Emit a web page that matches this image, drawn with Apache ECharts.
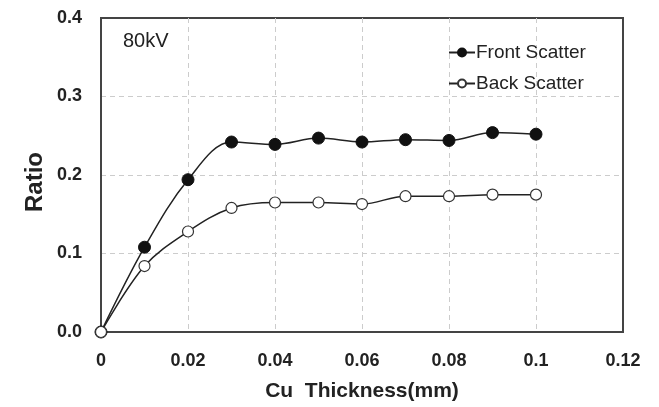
<!DOCTYPE html>
<html>
<head>
<meta charset="utf-8">
<script src="https://cdn.jsdelivr.net/npm/echarts@6/dist/echarts.min.js"></script>
<style>
  html, body { margin: 0; padding: 0; background: #fff; }
  #main { width: 659px; height: 407px; }
</style>
</head>
<body>
<div id="main"></div>
<script>
var thickness = [0, 0.01, 0.02, 0.03, 0.04, 0.05, 0.06, 0.07, 0.08, 0.09, 0.1];
var frontScatter = [0, 0.108, 0.194, 0.242, 0.239, 0.247, 0.242, 0.245, 0.244, 0.254, 0.252];
var backScatter = [0, 0.084, 0.128, 0.158, 0.165, 0.165, 0.163, 0.173, 0.173, 0.175, 0.175];
var seriesNames = ["Front Scatter", "Back Scatter"];

function pairs(xs, ys) {
  return xs.map(function (x, i) { return [x, ys[i]]; });
}

var myChart = echarts.init(document.getElementById("main"));
var tickFont = { fontFamily: "Liberation Sans", fontWeight: "bold", fontSize: 18, color: "#222" };

var option = {
  animation: false,
  backgroundColor: "#fff",
  grid: {
    left: 101, top: 18, right: 36, bottom: 73,
    show: true, borderColor: "#444", borderWidth: 2
  },
  graphic: [
    {
      type: "text", left: 123, top: 31,
      style: { text: "80kV", fontFamily: "Liberation Sans", fontSize: 20, fill: "#222" }
    },
    // y axis title, placed by hand so it sits a little below the middle like the original
    {
      type: "text", x: 35, y: 182, rotation: Math.PI / 2,
      style: {
        text: "Ratio", fontFamily: "Liberation Sans", fontWeight: "bold", fontSize: 24,
        fill: "#222", align: "center", verticalAlign: "middle"
      }
    }
  ],
  legend: {
    orient: "vertical",
    left: 443, top: 38,
    itemGap: 12,
    itemWidth: 26, itemHeight: 10,
    textStyle: { fontFamily: "Liberation Sans", fontSize: 19, color: "#222", padding: [0, 0, 0, -4] },
    data: seriesNames
  },
  xAxis: {
    type: "value",
    min: 0, max: 0.12, interval: 0.02,
    name: "Cu  Thickness(mm)",
    nameLocation: "middle",
    nameGap: 49,
    nameTextStyle: { fontFamily: "Liberation Sans", fontWeight: "bold", fontSize: 21, color: "#222" },
    axisLine: { lineStyle: { color: "#444", width: 2 } },
    axisTick: { show: false },
    axisLabel: Object.assign({ margin: 20 }, tickFont),
    splitLine: { show: true, showMaxLine: false, lineStyle: { color: "#ccc", type: [5, 4], width: 1 } }
  },
  yAxis: {
    type: "value",
    min: 0, max: 0.4, interval: 0.1,
    axisLine: { show: true, lineStyle: { color: "#444", width: 2 } },
    axisTick: { show: false },
    axisLabel: Object.assign({
      margin: 19,
      formatter: function (v) { return v.toFixed(1); }
    }, tickFont),
    splitLine: { show: true, showMaxLine: false, lineStyle: { color: "#ccc", type: [5, 4], width: 1 } }
  },
  series: [
    {
      name: seriesNames[0],
      type: "line",
      smooth: 0.35,
      data: pairs(thickness, frontScatter),
      symbol: "circle",
      symbolSize: 12,
      lineStyle: { color: "#222", width: 1.5 },
      itemStyle: { color: "#111", borderColor: "#111", borderWidth: 1 },
      z: 3
    },
    {
      name: seriesNames[1],
      type: "line",
      smooth: 0.35,
      data: pairs(thickness, backScatter),
      symbol: "circle",
      symbolSize: 11,
      lineStyle: { color: "#222", width: 1.5 },
      itemStyle: { color: "#fff", borderColor: "#333", borderWidth: 1.2 },
      z: 4
    }
  ]
};
if (option && typeof option === "object") {
  myChart.setOption(option);
}
</script>
</body>
</html>
